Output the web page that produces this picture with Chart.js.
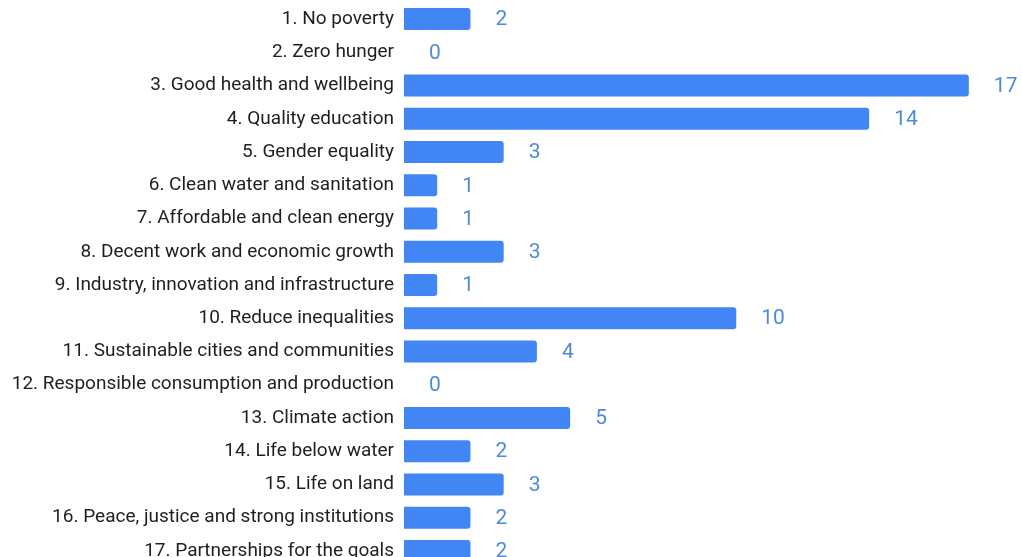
<!DOCTYPE html>
<html>
<head>
<meta charset="utf-8">
<script src="https://cdn.jsdelivr.net/npm/chart.js@4/dist/chart.umd.min.js"></script>
<style>
  html, body { margin: 0; padding: 0; background: #fff; overflow: hidden; }
  /* tick padding reserves space above/below the bars, so pull the canvas up */
  #wrap { width: 1022px; height: 608px; position: relative; top: -19px; }
</style>
</head>
<body>
<div id="wrap"><canvas id="sdgChart"></canvas></div>
<script>
const goals = [
  '1. No poverty',
  '2. Zero hunger',
  '3. Good health and wellbeing',
  '4. Quality education',
  '5. Gender equality',
  '6. Clean water and sanitation',
  '7. Affordable and clean energy',
  '8. Decent work and economic growth',
  '9. Industry, innovation and infrastructure',
  '10. Reduce inequalities',
  '11. Sustainable cities and communities',
  '12. Responsible consumption and production',
  '13. Climate action',
  '14. Life below water',
  '15. Life on land',
  '16. Peace, justice and strong institutions',
  '17. Partnerships for the goals'
];
const counts = [2, 0, 17, 14, 3, 1, 1, 3, 1, 10, 4, 0, 5, 2, 3, 2, 2];

// writes each count just past the end of its bar
const valueLabels = {
  id: 'valueLabels',
  afterDatasetsDraw(chart) {
    const { ctx } = chart;
    const meta = chart.getDatasetMeta(0);
    const xScale = chart.scales.x;
    ctx.save();
    ctx.font = '21px Roboto';
    ctx.fillStyle = '#4f8ad9';
    ctx.textAlign = 'left';
    ctx.textBaseline = 'middle';
    meta.data.forEach((bar, i) => {
      const x = xScale.getPixelForValue(counts[i]) + 25;
      ctx.fillText(String(counts[i]), x, bar.y + 1);
    });
    ctx.restore();
  }
};

new Chart(document.getElementById('sdgChart'), {
  type: 'bar',
  data: {
    labels: goals,
    datasets: [{
      data: counts,
      backgroundColor: '#4285f4',
      borderRadius: 3,
      borderSkipped: 'start',
      categoryPercentage: 0.66,
      barPercentage: 1.0
    }]
  },
  options: {
    indexAxis: 'y',
    responsive: true,
    maintainAspectRatio: false,
    animation: false,
    layout: { padding: 0 },
    plugins: {
      legend: { display: false },
      tooltip: { enabled: false }
    },
    scales: {
      x: {
        display: false,
        min: 0,
        max: 18.6
      },
      y: {
        afterFit: (scale) => { scale.width = 404; },
        grid: { display: false, drawTicks: false },
        border: { display: false },
        ticks: {
          padding: 10,
          color: '#1f1f1f',
          font: { family: 'Roboto', size: 19 }
        }
      }
    }
  },
  plugins: [valueLabels]
});
</script>
</body>
</html>
